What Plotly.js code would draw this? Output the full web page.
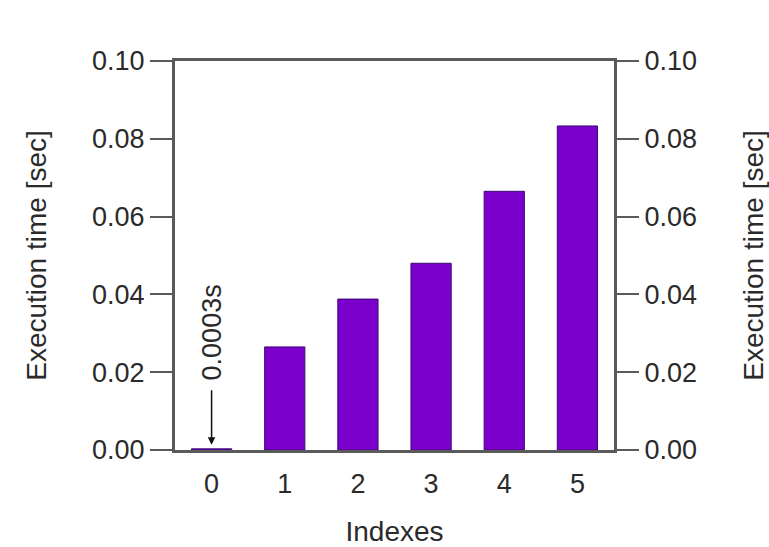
<!DOCTYPE html>
<html>
<head>
<meta charset="utf-8">
<script src="https://cdn.plot.ly/plotly-3.0.1.min.js"></script>
<style>html,body{margin:0;padding:0;background:#fff;}#chart{width:769px;height:547px;}</style>
</head>
<body>
<div id="chart"></div>
<script>
const indexes = ['0', '1', '2', '3', '4', '5'];
const execTimes = [0.0003, 0.0265, 0.0388, 0.0480, 0.0665, 0.0833];
const yTickVals = [0, 0.02, 0.04, 0.06, 0.08, 0.10];
const yTickText = ['0.00', '0.02', '0.04', '0.06', '0.08', '0.10'];
const annotationText = '0.0003s';

const font = {family: 'Liberation Sans, Arial, sans-serif', size: 27, color: '#2a2a2a'};
const titleFont = {family: 'Liberation Sans, Arial, sans-serif', size: 28, color: '#2a2a2a'};
const axisColor = '#5a5a5a';

const traces = [{
  type: 'bar',
  x: indexes,
  y: execTimes,
  width: 0.55,
  marker: {color: '#7B00CC', line: {color: '#3d0a70', width: 1}},
  hoverinfo: 'x+y'
}, {
  type: 'scatter',
  x: indexes,
  y: execTimes,
  yaxis: 'y2',
  mode: 'none',
  hoverinfo: 'skip',
  showlegend: false
}];

const yaxisCommon = {
  range: [0, 0.10],
  tickvals: yTickVals,
  ticktext: yTickText,
  ticks: 'outside',
  ticklen: 22,
  tickwidth: 2,
  tickcolor: axisColor,
  showline: true,
  linecolor: axisColor,
  linewidth: 3,
  showgrid: false,
  zeroline: false,
  tickfont: font,
  fixedrange: true
};

const layout = {
  width: 769,
  height: 547,
  margin: {l: 175, r: 155, t: 61, b: 97},
  paper_bgcolor: '#ffffff',
  plot_bgcolor: '#ffffff',
  showlegend: false,
  bargap: 0.45,
  font: font,
  xaxis: {
    type: 'category',
    range: [-0.5, 5.5],
    ticks: 'outside',
    ticklen: 8,
    tickcolor: 'rgba(0,0,0,0)',
    showline: true,
    mirror: true,
    linecolor: axisColor,
    linewidth: 3,
    showgrid: false,
    zeroline: false,
    tickfont: font,
    title: {text: 'Indexes', font: titleFont, standoff: 26},
    fixedrange: true
  },
  yaxis: Object.assign({}, yaxisCommon, {
    side: 'left',
    title: {text: 'Execution time [sec]', font: titleFont, standoff: 38}
  }),
  yaxis2: Object.assign({}, yaxisCommon, {
    side: 'right',
    overlaying: 'y',
    title: {text: 'Execution time [sec]', font: titleFont, standoff: 70}
  }),
  annotations: [{
    x: indexes[0],
    y: execTimes[0],
    xref: 'x',
    yref: 'y',
    text: annotationText,
    textangle: -90,
    showarrow: true,
    arrowhead: 2,
    arrowsize: 1,
    arrowwidth: 1.5,
    arrowcolor: '#111',
    ax: 0,
    ay: -116,
    standoff: 4,
    startstandoff: 8,
    font: font
  }]
};

Plotly.newPlot('chart', traces, layout, {displayModeBar: false, staticPlot: true});
</script>
</body>
</html>
